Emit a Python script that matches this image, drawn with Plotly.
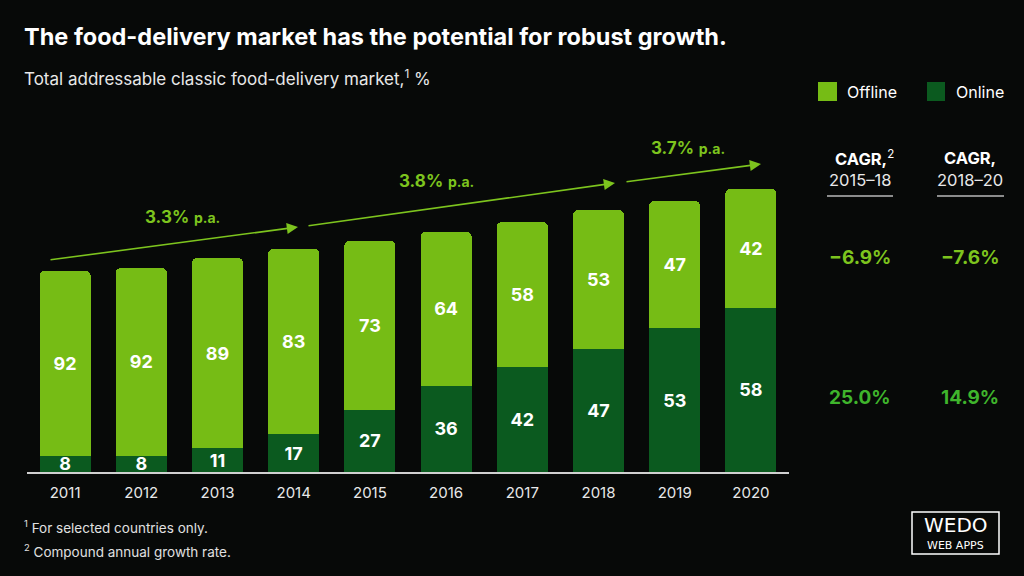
import plotly.graph_objects as go

# ---------------- data ----------------
years = ["2011", "2012", "2013", "2014", "2015", "2016", "2017", "2018", "2019", "2020"]
market_index = [100.0, 101.5, 106.5, 111.0, 115.0, 119.4, 124.4, 130.3, 134.8, 140.8]
offline_share = [92, 92, 89, 83, 73, 64, 58, 53, 47, 42]
online_share = [8, 8, 11, 17, 27, 36, 42, 47, 53, 58]
growth_labels = ["3.3%", "3.8%", "3.7%"]
cagr_headers = ["2015–18", "2018–20"]
cagr_offline = ["−6.9%", "−7.6%"]
cagr_online = ["25.0%", "14.9%"]

title = "The food-delivery market has the potential for robust growth."
subtitle = "Total addressable classic food-delivery market,<sup>1</sup> %"
footnotes = ["<sup>1</sup> For selected countries only.", "<sup>2</sup> Compound annual growth rate."]

# ---------------- styles ----------------
W, H = 1024, 576
BG = "#070908"
OFF = "#76bc15"
ON = "#0b5a1f"
LIME = "#7dc41e"
MID = "#3fb52c"
FONT = "Inter, Roboto, 'Open Sans', sans-serif"

def px(x):
    return x / W

def py(y):
    return 1 - y / H

online_vals = [m * s / 100 for m, s in zip(market_index, online_share)]
offline_vals = [m * s / 100 for m, s in zip(market_index, offline_share)]

fig = go.Figure()
for vals, shares, name, col in [(online_vals, online_share, "Online", ON),
                                (offline_vals, offline_share, "Offline", OFF)]:
    fig.add_trace(go.Bar(
        x=years, y=vals, name=name, marker=dict(color=col, line=dict(width=0)),
        text=[str(v) for v in shares], textposition="inside", insidetextanchor="middle",
        textangle=0, cliponaxis=False,
        textfont=dict(color="white", size=18, family=FONT, weight="bold"),
        constraintext="none", hoverinfo="skip"))

# plot area: y=0 at pixel 472, top at pixel 100
y_top = 100
y_base = 472
top_val = market_index[-1] * (y_base - y_top) / 283.0

fig.update_layout(
    width=W, height=H, autosize=False,
    margin=dict(l=0, r=0, t=0, b=0),
    paper_bgcolor=BG, plot_bgcolor=BG,
    barmode="stack", bargap=0.33, barcornerradius=5,
    showlegend=False,
    uniformtext=dict(mode=False),
    font=dict(family=FONT, color="white"),
    xaxis=dict(domain=[px(27), px(789)], type="category", showgrid=False, zeroline=False,
               showline=True, linecolor="#d0d0d0", linewidth=1.5,
               ticks="outside", ticklen=6, tickcolor="rgba(0,0,0,0)",
               tickfont=dict(size=15, color="#e8e8e8", family=FONT)),
    yaxis=dict(domain=[py(y_base), py(y_top)], range=[0, top_val], visible=False),
)

ann = []
# title & subtitle
ann.append(dict(text=title, x=px(22), y=py(36), xref="paper", yref="paper", xanchor="left",
                yanchor="middle", showarrow=False,
                font=dict(size=23.5, color="white", family=FONT, weight="bold")))
ann.append(dict(text=subtitle, x=px(22), y=py(77), xref="paper", yref="paper", xanchor="left",
                yanchor="middle", showarrow=False,
                font=dict(size=17, color="#e8e8e8", family=FONT)))

# legend (manual)
shapes = []
shapes.append(dict(type="rect", xref="paper", yref="paper", x0=px(818), x1=px(837), y0=py(101), y1=py(82),
                   fillcolor=OFF, line=dict(width=0)))
shapes.append(dict(type="rect", xref="paper", yref="paper", x0=px(927), x1=px(945), y0=py(101), y1=py(82),
                   fillcolor=ON, line=dict(width=0)))
ann.append(dict(text="Offline", x=px(845), y=py(92), xref="paper", yref="paper", xanchor="left",
                yanchor="middle", showarrow=False, font=dict(size=16, color="white", family=FONT)))
ann.append(dict(text="Online", x=px(954), y=py(92), xref="paper", yref="paper", xanchor="left",
                yanchor="middle", showarrow=False, font=dict(size=16, color="white", family=FONT)))

# growth arrows
arrows = [((298, 227), (49, 260), (182, 217)),
          ((615, 183), (307, 226), (436, 181)),
          ((761, 164), (625, 182), (688, 148))]
for (tip, tail, lab), g in zip(arrows, growth_labels):
    ann.append(dict(x=px(tip[0]), y=py(tip[1]), xref="paper", yref="paper",
                    ax=tail[0] - tip[0], ay=tail[1] - tip[1], axref="pixel", ayref="pixel",
                    showarrow=True, arrowhead=2, arrowsize=1.4, arrowwidth=1.6, arrowcolor=LIME,
                    text="", standoff=0, startstandoff=0))
    ann.append(dict(text=f"<b>{g}</b> <span style='font-size:14px'><b>p.a.</b></span>",
                    x=px(lab[0]), y=py(lab[1]), xref="paper", yref="paper",
                    xanchor="center", yanchor="middle", showarrow=False,
                    font=dict(size=17, color=LIME, family=FONT)))

# CAGR columns
col_x = [860, 970]
under = [(827, 893), (937, 1004)]
for i, (cx, hdr, vo, vn) in enumerate(zip(col_x, cagr_headers, cagr_offline, cagr_online)):
    head = "<b>CAGR,</b><sup>2</sup>" if i == 0 else "<b>CAGR,</b>"
    ann.append(dict(text=head, x=px(cx + (4 if i == 0 else 0)), y=py(158), xref="paper", yref="paper",
                    xanchor="center", yanchor="middle", showarrow=False,
                    font=dict(size=16.5, color="white", family=FONT)))
    ann.append(dict(text=hdr, x=px(cx), y=py(180), xref="paper", yref="paper",
                    xanchor="center", yanchor="middle", showarrow=False,
                    font=dict(size=16.5, color="#e8e8e8", family=FONT)))
    shapes.append(dict(type="line", xref="paper", yref="paper", x0=px(under[i][0]), x1=px(under[i][1]),
                       y0=py(196), y1=py(196), line=dict(color="#b8b8b8", width=1.5)))
    ann.append(dict(text=vo, x=px(cx), y=py(257), xref="paper", yref="paper",
                    xanchor="center", yanchor="middle", showarrow=False,
                    font=dict(size=19, color=LIME, family=FONT, weight="bold")))
    ann.append(dict(text=vn, x=px(cx), y=py(397), xref="paper", yref="paper",
                    xanchor="center", yanchor="middle", showarrow=False,
                    font=dict(size=19, color=MID, family=FONT, weight="bold")))

# footnotes
for fy, fn in zip([527, 551], footnotes):
    ann.append(dict(text=fn, x=px(22), y=py(fy), xref="paper", yref="paper", xanchor="left",
                    yanchor="middle", showarrow=False, font=dict(size=13.5, color="#e0e0e0", family=FONT)))

# logo
shapes.append(dict(type="rect", xref="paper", yref="paper", x0=px(912), x1=px(999), y0=py(554), y1=py(512),
                   line=dict(color="white", width=1.5), fillcolor="rgba(0,0,0,0)"))
ann.append(dict(text="WEDO", x=px(955.5), y=py(525), xref="paper", yref="paper", xanchor="center",
                yanchor="middle", showarrow=False,
                font=dict(size=20, color="white", family="'DejaVu Sans', sans-serif")))
ann.append(dict(text="WEB APPS", x=px(955.5), y=py(545), xref="paper", yref="paper", xanchor="center",
                yanchor="middle", showarrow=False,
                font=dict(size=11, color="white", family="'DejaVu Sans', sans-serif")))

fig.update_layout(annotations=ann, shapes=shapes)
fig.write_html("out.html")
